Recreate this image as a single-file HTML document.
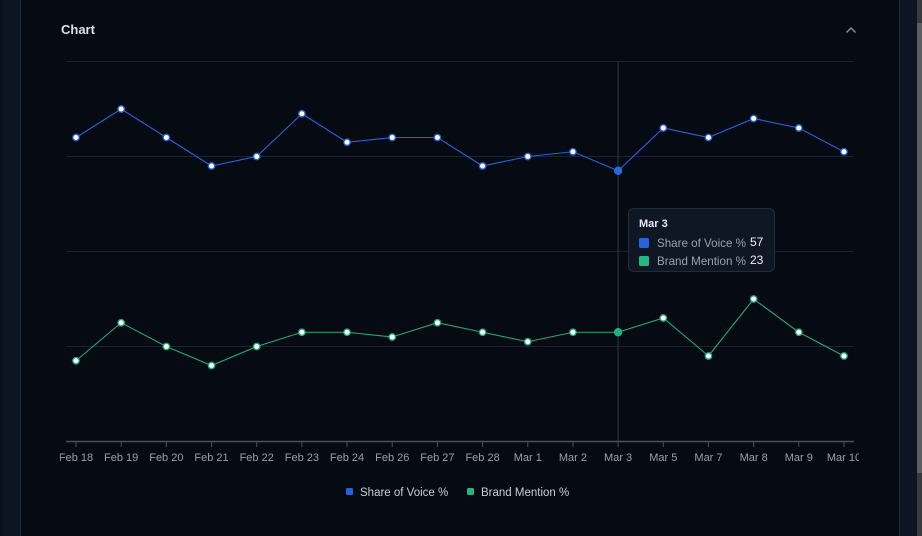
<!DOCTYPE html>
<html><head><meta charset="utf-8">
<style>
html,body{margin:0;padding:0;width:922px;height:536px;overflow:hidden;background:#060b13;font-family:"Liberation Sans",sans-serif;}
.left{position:absolute;left:0;top:0;width:20px;height:536px;background:#0e1522;border-right:1px solid #1e2838;}
.left::before{content:"";position:absolute;left:0;top:0;width:3px;height:536px;background:#0a101b;}
.right{position:absolute;left:899px;top:0;width:18px;height:536px;background:#0e1522;border-left:1px solid #1f2a3b;}
.sb{position:absolute;left:917px;top:0;width:5px;height:536px;background:#3a3a3a;}
.thumb{position:absolute;left:917px;top:23px;width:5px;height:450px;background:#5e5e5e;}
.title{position:absolute;left:61px;top:22px;font-size:13px;font-weight:bold;color:#dde1e7;}
svg{position:absolute;left:0;top:0;}
.tt{position:absolute;left:628px;top:208px;width:147px;height:64px;background:#0f1724;border:1px solid #212c3c;border-radius:6px;box-sizing:border-box;}
</style></head><body>
<div class="left"></div>
<div class="right"></div>
<div class="sb"></div><div class="thumb"></div>
<div class="title">Chart</div>
<svg width="922" height="536" viewBox="0 0 922 536">
<defs><clipPath id="c"><rect x="60" y="0" width="799" height="536"/></clipPath></defs>
<polyline points="846.5,32.5 851,28 855.5,32.5" fill="none" stroke="#8a929e" stroke-width="1.4"/>
<g stroke="#1a2130" stroke-width="1">
<line x1="66" y1="61.5" x2="854" y2="61.5"/>
<line x1="66" y1="156.5" x2="854" y2="156.5"/>
<line x1="66" y1="251.5" x2="854" y2="251.5"/>
<line x1="66" y1="346.5" x2="854" y2="346.5"/>
</g>
<line x1="618.1" y1="61" x2="618.1" y2="441" stroke="#27303e" stroke-width="1.2"/>
<line x1="66" y1="441.5" x2="854" y2="441.5" stroke="#4a5059" stroke-width="1.5"/>
<g stroke="#4a5059" stroke-width="1">
<line x1="76" y1="441" x2="76" y2="447"/><line x1="121.18" y1="441" x2="121.18" y2="447"/><line x1="166.35" y1="441" x2="166.35" y2="447"/><line x1="211.53" y1="441" x2="211.53" y2="447"/><line x1="256.71" y1="441" x2="256.71" y2="447"/><line x1="301.88" y1="441" x2="301.88" y2="447"/><line x1="347.06" y1="441" x2="347.06" y2="447"/><line x1="392.24" y1="441" x2="392.24" y2="447"/><line x1="437.41" y1="441" x2="437.41" y2="447"/><line x1="482.59" y1="441" x2="482.59" y2="447"/><line x1="527.76" y1="441" x2="527.76" y2="447"/><line x1="572.94" y1="441" x2="572.94" y2="447"/><line x1="618.12" y1="441" x2="618.12" y2="447"/><line x1="663.29" y1="441" x2="663.29" y2="447"/><line x1="708.47" y1="441" x2="708.47" y2="447"/><line x1="753.65" y1="441" x2="753.65" y2="447"/><line x1="798.82" y1="441" x2="798.82" y2="447"/><line x1="844" y1="441" x2="844" y2="447"/>
</g>
<g clip-path="url(#c)" font-family="Liberation Sans, sans-serif" font-size="11" fill="#98a0ab" text-anchor="middle">
<text x="76" y="461">Feb 18</text><text x="121.18" y="461">Feb 19</text><text x="166.35" y="461">Feb 20</text><text x="211.53" y="461">Feb 21</text><text x="256.71" y="461">Feb 22</text><text x="301.88" y="461">Feb 23</text><text x="347.06" y="461">Feb 24</text><text x="392.24" y="461">Feb 26</text><text x="437.41" y="461">Feb 27</text><text x="482.59" y="461">Feb 28</text><text x="527.76" y="461">Mar 1</text><text x="572.94" y="461">Mar 2</text><text x="618.12" y="461">Mar 3</text><text x="663.29" y="461">Mar 5</text><text x="708.47" y="461">Mar 7</text><text x="753.65" y="461">Mar 8</text><text x="798.82" y="461">Mar 9</text><text x="844" y="461">Mar 10</text>
</g>
<polyline fill="none" stroke="#2763d8" stroke-width="1.1" points="76,137.5 121.18,109 166.35,137.5 211.53,166 256.71,156.5 301.88,113.75 347.06,142.25 392.24,137.5 437.41,137.5 482.59,166 527.76,156.5 572.94,151.75 618.12,170.75 663.29,128 708.47,137.5 753.65,118.5 798.82,128 844,151.75"/>
<polyline fill="none" stroke="#22a97c" stroke-width="1.1" points="76,360.75 121.18,322.75 166.35,346.5 211.53,365.5 256.71,346.5 301.88,332.25 347.06,332.25 392.24,337 437.41,322.75 482.59,332.25 527.76,341.75 572.94,332.25 618.12,332.25 663.29,318 708.47,356 753.65,299 798.82,332.25 844,356"/>
<g fill="#fff" stroke="#2763d8" stroke-width="1.3">
<circle cx="76" cy="137.5" r="3.2"/><circle cx="121.18" cy="109" r="3.2"/><circle cx="166.35" cy="137.5" r="3.2"/><circle cx="211.53" cy="166" r="3.2"/><circle cx="256.71" cy="156.5" r="3.2"/><circle cx="301.88" cy="113.75" r="3.2"/><circle cx="347.06" cy="142.25" r="3.2"/><circle cx="392.24" cy="137.5" r="3.2"/><circle cx="437.41" cy="137.5" r="3.2"/><circle cx="482.59" cy="166" r="3.2"/><circle cx="527.76" cy="156.5" r="3.2"/><circle cx="572.94" cy="151.75" r="3.2"/><circle cx="663.29" cy="128" r="3.2"/><circle cx="708.47" cy="137.5" r="3.2"/><circle cx="753.65" cy="118.5" r="3.2"/><circle cx="798.82" cy="128" r="3.2"/><circle cx="844" cy="151.75" r="3.2"/>
</g>
<circle cx="618.12" cy="170.75" r="4.2" fill="#2767dc"/>
<g fill="#fff" stroke="#22a97c" stroke-width="1.3">
<circle cx="76" cy="360.75" r="3.2"/><circle cx="121.18" cy="322.75" r="3.2"/><circle cx="166.35" cy="346.5" r="3.2"/><circle cx="211.53" cy="365.5" r="3.2"/><circle cx="256.71" cy="346.5" r="3.2"/><circle cx="301.88" cy="332.25" r="3.2"/><circle cx="347.06" cy="332.25" r="3.2"/><circle cx="392.24" cy="337" r="3.2"/><circle cx="437.41" cy="322.75" r="3.2"/><circle cx="482.59" cy="332.25" r="3.2"/><circle cx="527.76" cy="341.75" r="3.2"/><circle cx="572.94" cy="332.25" r="3.2"/><circle cx="663.29" cy="318" r="3.2"/><circle cx="708.47" cy="356" r="3.2"/><circle cx="753.65" cy="299" r="3.2"/><circle cx="798.82" cy="332.25" r="3.2"/><circle cx="844" cy="356" r="3.2"/>
</g>
<circle cx="618.12" cy="332.25" r="4.2" fill="#22b07f"/>
<rect x="346" y="488" width="7" height="7" rx="1.5" fill="#2763e0"/>
<text x="360" y="496" font-family="Liberation Sans, sans-serif" font-size="11.5" fill="#c9ced6">Share of Voice %</text>
<rect x="467" y="488" width="7" height="7" rx="1.5" fill="#27b585"/>
<text x="481" y="496" font-family="Liberation Sans, sans-serif" font-size="11.5" fill="#c9ced6">Brand Mention %</text>
</svg>
<div class="tt"></div>
<svg width="922" height="536" viewBox="0 0 922 536">
<text x="639" y="227" font-family="Liberation Sans, sans-serif" font-size="11" font-weight="bold" fill="#e6e9ee">Mar 3</text>
<rect x="639" y="238" width="10" height="10" rx="1.5" fill="#2763e0"/>
<text x="657" y="247" font-family="Liberation Sans, sans-serif" font-size="11.6" fill="#9aa2ad">Share of Voice %</text>
<text x="750" y="246" font-family="Liberation Sans, sans-serif" font-size="12" fill="#f0f2f5">57</text>
<rect x="639" y="256" width="10" height="10" rx="1.5" fill="#27b585"/>
<text x="657" y="265" font-family="Liberation Sans, sans-serif" font-size="11.6" fill="#9aa2ad">Brand Mention %</text>
<text x="750" y="264" font-family="Liberation Sans, sans-serif" font-size="12" fill="#f0f2f5">23</text>
</svg>
</body></html>
